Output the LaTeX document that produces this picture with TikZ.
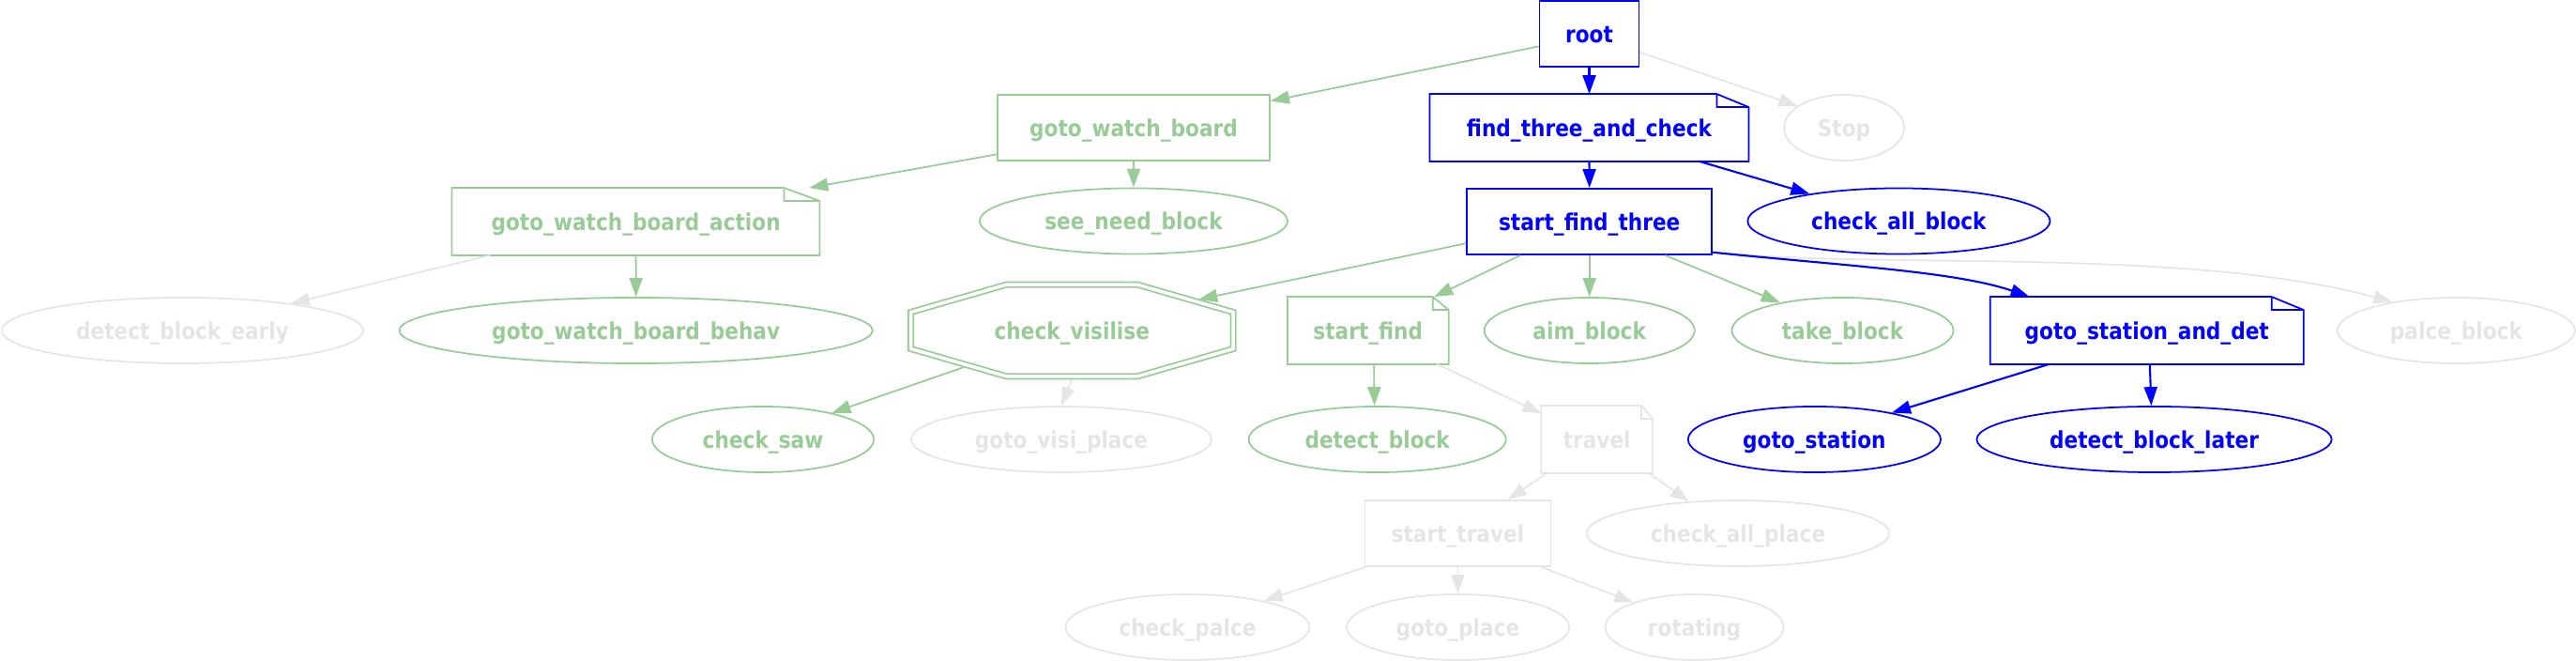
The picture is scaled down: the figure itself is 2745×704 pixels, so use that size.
\documentclass[tikz,border=0pt]{standalone}
\usepackage{fontspec}
\setmainfont{DejaVu Sans}[FakeStretch=0.88]
\usepackage{tikz}
\usetikzlibrary{shapes.geometric, arrows.meta, calc}
\definecolor{runblue}{RGB}{0, 0, 255}
\definecolor{okgreen}{RGB}{152, 203, 150}
\definecolor{idlegray}{RGB}{229, 229, 229}
\tikzset{
  gv/.style        = {inner sep=0pt, minimum height=0.7cm, text height=5.3pt, text depth=0pt, line width=0.5pt, font=\bfseries\fontsize{7}{8.4}\selectfont},
  box/.style       = {gv, rectangle, draw},
  note/.style      = {gv, rectangle, draw=none},
  oval/.style      = {gv, ellipse, draw},
  octo/.style      = {gv, rectangle, draw=none, minimum height=1.03cm},
  running/.style   = {runblue},
  success/.style   = {okgreen},
  idle/.style      = {idlegray},
  flowrun/.style   = {-{Triangle[length=0.2cm, width=0.14cm]}, line width=0.6pt, runblue},
  flowok/.style    = {-{Triangle[length=0.2cm, width=0.14cm]}, line width=0.5pt, okgreen},
  flowidle/.style  = {-{Triangle[length=0.2cm, width=0.14cm]}, line width=0.5pt, idlegray},
}
% 便签框：节点名, 颜色, 折角宽度
\newcommand{\notefold}[3]{%
  \draw[#2, line width=0.5pt] (#1.north west) -- ([xshift=-#3]#1.north east) -- ([yshift=-0.14cm]#1.north east) -- (#1.south east) -- (#1.south west) -- cycle
    ([xshift=-#3]#1.north east) |- ([yshift=-0.14cm]#1.north east);}

\begin{document}
\begin{tikzpicture}[x=0.01cm, y=-0.01cm]
\useasboundingbox (0,0) rectangle (2745,704);

% ===== 第一、二层 =====
\node[box, running, minimum width=1.06cm] (root) at (1693.5,36) {root};
\node[box, success, minimum width=2.90cm] (gwb) at (1208,136) {goto\_watch\_board};
\node[note, running, minimum width=3.38cm] (ftac) at (1693.5,136) {find\_three\_and\_check};
\node[oval, idle, minimum width=1.28cm] (stop) at (1965,136) {Stop};

% ===== 第三层 =====
\node[note, success, minimum width=3.90cm] (gwba) at (677.6,236) {goto\_watch\_board\_action};
\node[oval, success, minimum width=3.28cm] (snb) at (1208,235.5) {see\_need\_block};
\node[box, running, minimum width=2.61cm] (sft) at (1693.7,236) {start\_find\_three};
\node[oval, running, minimum width=3.22cm] (cab) at (2023.4,235.5) {check\_all\_block};

% ===== 第四层 =====
\node[oval, idle, minimum width=3.85cm] (dbe) at (194.5,352) {detect\_block\_early};
\node[oval, success, minimum width=5.04cm] (gwbb) at (677.7,352) {goto\_watch\_board\_behav};
\node[octo, success, minimum width=3.49cm] (cv) at (1142.3,352) {check\_visilise};
\node[note, success, minimum width=1.70cm] (sf) at (1457.8,352) {start\_find};
\node[oval, success, minimum width=2.24cm] (ab) at (1693.7,352) {aim\_block};
\node[oval, success, minimum width=2.36cm] (tb) at (1963.5,352) {take\_block};
\node[note, running, minimum width=3.32cm] (gsad) at (2287.7,352) {goto\_station\_and\_det};
\node[oval, idle, minimum width=2.53cm] (pb) at (2617.4,352) {palce\_block};

% ===== 第五层 =====
\node[oval, success, minimum width=2.36cm] (cs) at (813,468) {check\_saw};
\node[oval, idle, minimum width=3.20cm] (gvp) at (1131,468) {goto\_visi\_place};
\node[oval, success, minimum width=2.74cm] (db) at (1467.7,468) {detect\_block};
\node[note, idle, minimum width=1.17cm] (tr) at (1701.7,468) {travel};
\node[oval, running, minimum width=2.69cm] (gs) at (1933.4,468) {goto\_station};
\node[oval, running, minimum width=3.78cm] (dbl) at (2295.5,468) {detect\_block\_later};

% ===== 第六、七层 =====
\node[box, idle, minimum width=1.98cm] (st) at (1553.5,568) {start\_travel};
\node[oval, idle, minimum width=3.22cm] (cap) at (1852,568) {check\_all\_place};
\node[oval, idle, minimum width=2.60cm] (cpl) at (1265.5,668) {check\_palce};
\node[oval, idle, minimum width=2.37cm] (gp) at (1553.5,668) {goto\_place};
\node[oval, idle, minimum width=1.90cm] (rot) at (1805.6,668) {rotating};

% 便签折角与八边形
\notefold{ftac}{runblue}{0.34cm}
\notefold{gwba}{okgreen}{0.38cm}
\notefold{sf}{okgreen}{0.17cm}
\notefold{gsad}{runblue}{0.34cm}
\notefold{tr}{idlegray}{0.12cm}
\draw[okgreen, line width=0.5pt, double, double distance=1pt, shift={(cv.center)}]
  (-70,-48.8) -- (70,-48.8) -- (171.8,-19.5) -- (171.8,19.5) -- (70,48.8) -- (-70,48.8) -- (-171.8,19.5) -- (-171.8,-19.5) -- cycle;

% ===== 连线 =====
\draw[flowok] (root.194) -- (gwb.11);
\draw[flowrun] (root.south) -- (ftac.north);
\draw[flowidle] (root.-20) -- (stop.155);
\draw[flowok] (gwb.south) -- (snb.north);
\draw[flowok] (gwb.191) -- (gwba.11);
\draw[flowrun] (ftac.south) -- (sft.north);
\draw[flowrun] (ftac.-17) -- (cab.163);
\draw[flowidle] (gwba.193) -- (dbe.14);
\draw[flowok] (gwba.south) -- (gwbb.north);
\draw[flowok] (sft.190) -- ($(cv.center)+(135,-33)$);
\draw[flowok] (sft.206) -- (sf.27);
\draw[flowok] (sft.south) -- (ab.north);
\draw[flowok] (sft.-24) -- (tb.156);
\draw[flowidle] (sft.-14) .. controls +(176,18) and +(-218,-59) .. (pb.156);
\draw[flowrun] (sft.-14) .. controls +(136,14) and +(-78,-27) .. (gsad.164);
\draw[flowok] ($(cv.center)+(-115,39)$) -- (cs.21);
\draw[flowidle] (cv.south) -- (gvp.north);
\draw[flowok] (sf.-80) -- (db.95);
\draw[flowidle] (sf.-26) -- (tr.155);
\draw[flowrun] (gsad.199) -- (gs.19);
\draw[flowrun] (gsad.-85) -- (dbl.95);
\draw[flowidle] (tr.214) -- (st.34);
\draw[flowidle] (tr.-33) -- (cap.147);
\draw[flowidle] (st.200) -- (cpl.19);
\draw[flowidle] (st.south) -- (gp.north);
\draw[flowidle] (st.-22) -- (rot.158);

\end{tikzpicture}
\end{document}
